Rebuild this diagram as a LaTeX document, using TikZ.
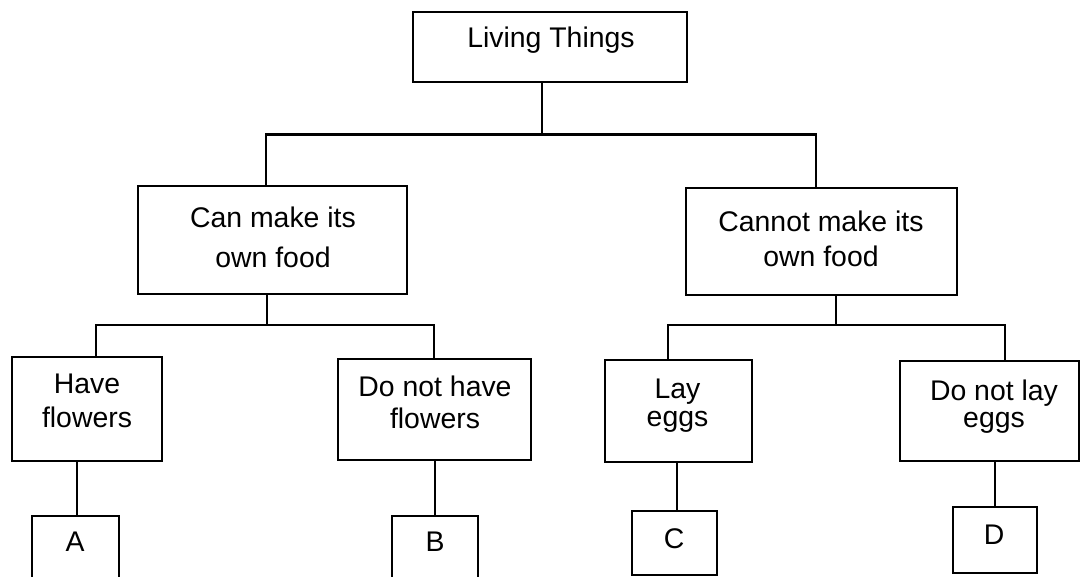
\documentclass[tikz,border=0pt]{standalone}
\usepackage{fontspec}
\setmainfont{Liberation Sans}
\begin{document}
\begin{tikzpicture}[x=1pt,y=-1pt,
  box/.style={draw=black,line width=1.8pt,rectangle,inner sep=0pt},
  lbl/.style={anchor=north,inner sep=0pt,align=center,text=black},
  conn/.style={draw=black,line width=2.4pt}]
\useasboundingbox (0,0) rectangle (1081,577);
\newcommand{\fs}[1]{\fontsize{28.4}{#1}\selectfont}
% boxes
\node[box,minimum width=274pt,minimum height=70pt] (living) at (550,47) {};
\node[box,minimum width=269pt,minimum height=108pt] (can) at (272.5,240) {};
\node[box,minimum width=271pt,minimum height=107pt] (cannot) at (821.5,241.5) {};
\node[box,minimum width=150pt,minimum height=104pt] (have) at (87,409) {};
\node[box,minimum width=193pt,minimum height=101pt] (dnh) at (434.5,409.5) {};
\node[box,minimum width=147pt,minimum height=102pt] (lay) at (678.5,411) {};
\node[box,minimum width=179pt,minimum height=100pt] (dnl) at (989.5,411) {};
\node[box,minimum width=87pt,minimum height=74pt] (a) at (75.5,553) {};
\node[box,minimum width=86pt,minimum height=74pt] (b) at (435,553) {};
\node[box,minimum width=85pt,minimum height=64pt] (c) at (674.5,543) {};
\node[box,minimum width=84pt,minimum height=66pt] (d) at (995,540) {};
% texts
\node[lbl,font=\fs{34}] (tliving) at (551,27) {Living Things};
\node[lbl,font=\fs{40}] (tcan) at (273,206.5) {Can make its\\own food};
\node[lbl,font=\fs{35}] (tcannot) at (821,210.5) {Cannot make its\\own food};
\node[lbl,font=\fs{34}] (thave) at (87,374) {Have\\flowers};
\node[lbl,font=\fs{32}] (tdnh) at (435,376) {Do not have\\flowers};
\node[lbl,font=\fs{28}] (tlay) at (677.5,379) {Lay\\eggs};
\node[lbl,font=\fs{27}] (tdnl) at (994,380) {Do not lay\\eggs};
\node[lbl,font=\fs{34}] (ta) at (75,532) {A};
\node[lbl,font=\fs{34}] (tb) at (435,532) {B};
\node[lbl,font=\fs{34}] (tc) at (674,528) {C};
\node[lbl,font=\fs{34}] (td) at (994,525) {D};
% junction coordinates
\coordinate (j0) at (542,134.5);
\coordinate (j0l) at (266,134.5);
\coordinate (j0r) at (816,134.5);
\coordinate (j1) at (267,325);
\coordinate (j1l) at (96,325);
\coordinate (j1r) at (434,325);
\coordinate (j2) at (836,325);
\coordinate (j2l) at (668,325);
\coordinate (j2r) at (1005,325);
% connectors
\draw[conn] (living.south -| j0) -- (j0);
\draw[conn] (can.north -| j0l) -- (j0l) -- (j0r) -- (cannot.north -| j0r);
\draw[conn] (can.south -| j1) -- (j1);
\draw[conn] (have.north -| j1l) -- (j1l) -- (j1r) -- (dnh.north -| j1r);
\draw[conn] (cannot.south -| j2) -- (j2);
\draw[conn] (lay.north -| j2l) -- (j2l) -- (j2r) -- (dnl.north -| j2r);
\coordinate (ka) at (77,0);
\coordinate (kb) at (435,0);
\coordinate (kc) at (677,0);
\coordinate (kd) at (995,0);
\draw[conn] (have.south -| ka) -- (a.north -| ka);
\draw[conn] (dnh.south -| kb) -- (b.north -| kb);
\draw[conn] (lay.south -| kc) -- (c.north -| kc);
\draw[conn] (dnl.south -| kd) -- (d.north -| kd);
\end{tikzpicture}
\end{document}
